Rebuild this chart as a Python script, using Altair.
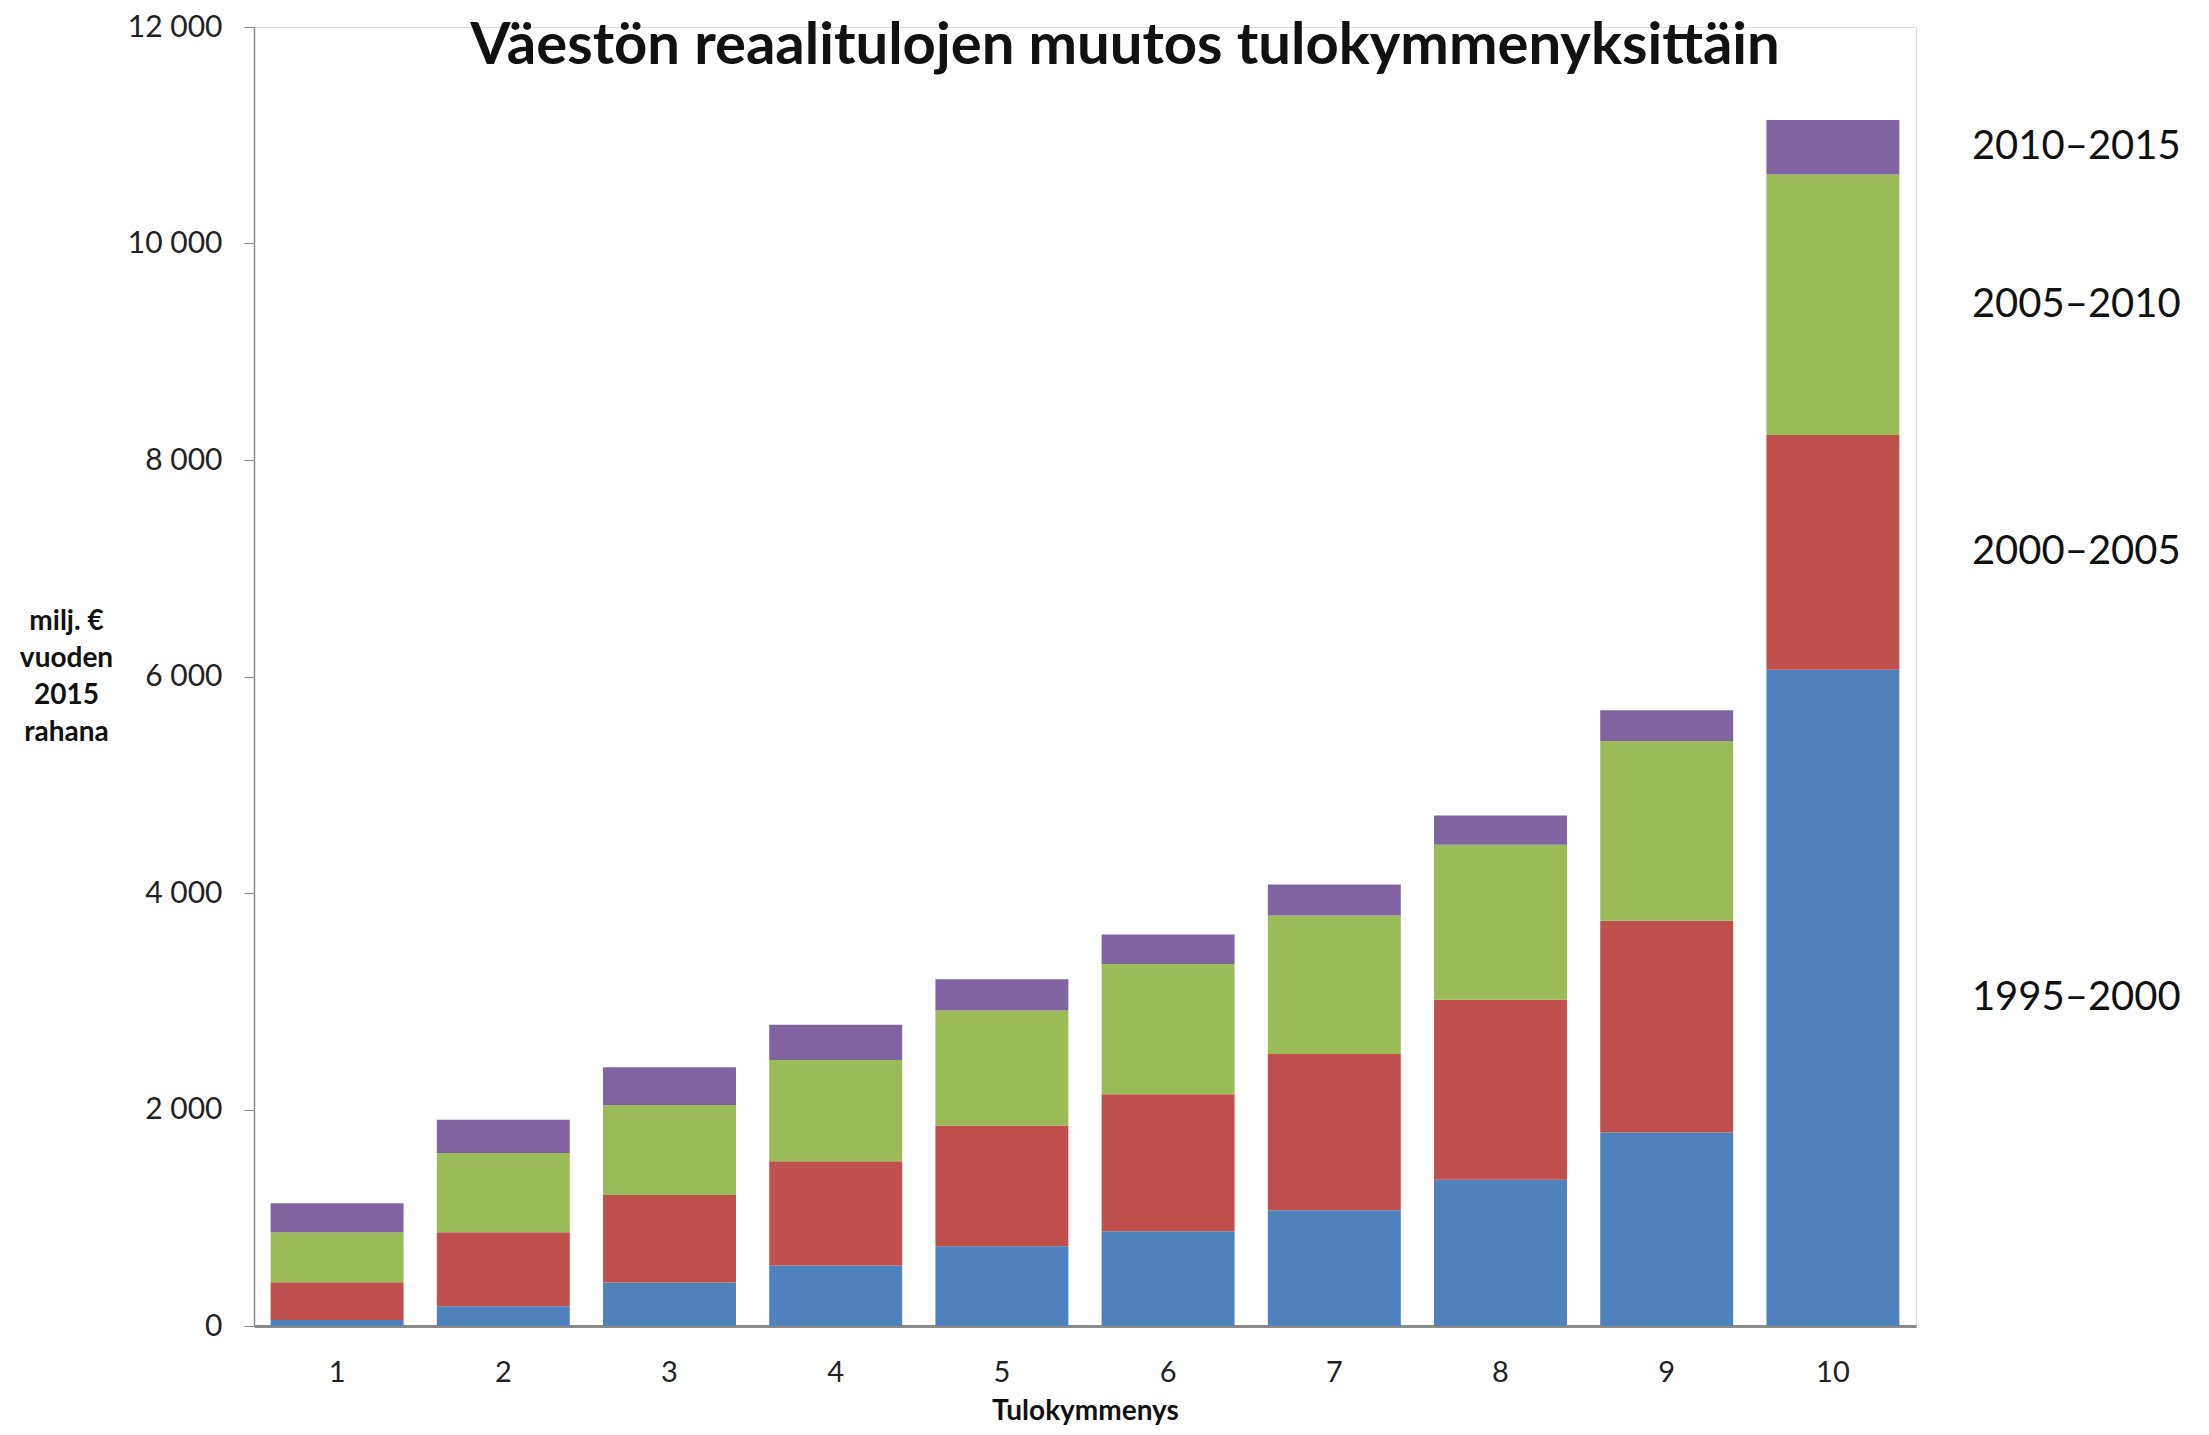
import altair as alt
import pandas as pd

deciles = [1, 2, 3, 4, 5, 6, 7, 8, 9, 10]
periods = ["1995–2000", "2000–2005", "2005–2010", "2010–2015"]
colors = ["#4F81BD", "#C0504D", "#9BBB59", "#8064A2"]

p1995_2000 = [55, 182, 402, 560, 737, 875, 1069, 1350, 1787, 6063]
p2000_2005 = [350, 683, 808, 962, 1116, 1267, 1444, 1665, 1956, 2168]
p2005_2010 = [460, 733, 832, 935, 1061, 1203, 1280, 1430, 1661, 2407]
p2010_2015 = [270, 308, 348, 327, 289, 271, 285, 271, 285, 502]

y_ticks = [0, 2000, 4000, 6000, 8000, 10000, 12000]

series = [p1995_2000, p2000_2005, p2005_2010, p2010_2015]
rows = []
for k, (per, vals) in enumerate(zip(periods, series)):
    for d, v in zip(deciles, vals):
        rows.append({"decile": d, "period": per, "value": v, "ord": k})
df = pd.DataFrame(rows)

TOP = 19
W, H = 1662, 1326 - 8 - TOP
BOTTOM = 1427 - 8 - TOP - H
FONT = "Lato"

base = alt.Chart(df).transform_stack(
    stack="value", groupby=["decile"], as_=["v0", "v1"],
    sort=[alt.SortField("ord", order="ascending")],
)

xenc = alt.X(
    "decile:O",
    scale=alt.Scale(paddingInner=0.2, paddingOuter=0.1),
    axis=alt.Axis(
        title="Tulokymmenys", labelAngle=0, ticks=False, labelPadding=32,
        labelFontSize=29, labelFont=FONT, labelColor="#222",
        domainColor="#8A8A8A", domainWidth=3,
        titleFont=FONT, titleFontSize=28, titleFontWeight="bold",
        titleColor="#111", titlePadding=10,
    ),
)

bars = base.mark_bar().encode(
    x=xenc,
    y=alt.Y(
        "v0:Q",
        scale=alt.Scale(domain=[0, 12000], nice=False),
        axis=alt.Axis(
            values=y_ticks, grid=False,
            labelExpr="replace(format(datum.value, ','), ',', ' ')",
            labelFontSize=30, labelFont=FONT, labelColor="#222",
            labelPadding=22, tickSize=10, tickColor="#8A8A8A",
            domainColor="#8A8A8A", domainWidth=1.5,
            title=["milj. €", "vuoden", "2015", "rahana"],
            titleAngle=0, titleAlign="center", titleBaseline="middle",
            titleX=-188, titleY=621 - 8 - TOP, titleLineHeight=37,
            titleFont=FONT, titleFontSize=28, titleFontWeight="bold",
            titleColor="#111",
        ),
    ),
    y2="v1:Q",
    color=alt.Color("period:N", scale=alt.Scale(domain=periods, range=colors), legend=None),
)

labels = base.transform_filter("datum.decile == 10").transform_calculate(
    mid="(datum.v0 + datum.v1) / 2"
).mark_text(align="left", baseline="middle", fontSize=40, font=FONT, color="#111", dx=139).encode(
    x=alt.X("decile:O"),
    y=alt.Y("mid:Q"),
    text="period:N",
)

chart = alt.layer(bars, labels).properties(
    width=W, height=H,
    title=alt.TitleParams(
        "Väestön reaalitulojen muutos tulokymmenyksittäin",
        font=FONT, fontSize=58, fontWeight="bold", color="#111",
        anchor="middle", dx=40, dy=58, offset=-52, baseline="alphabetic",
    ),
    autosize=alt.AutoSizeParams(type="none"),
    padding={"left": 246, "top": TOP, "right": 284, "bottom": BOTTOM},
).configure_view(stroke=None).configure(background="white")

chart.save("out.html", embed_options={"renderer": "svg", "actions": False})
